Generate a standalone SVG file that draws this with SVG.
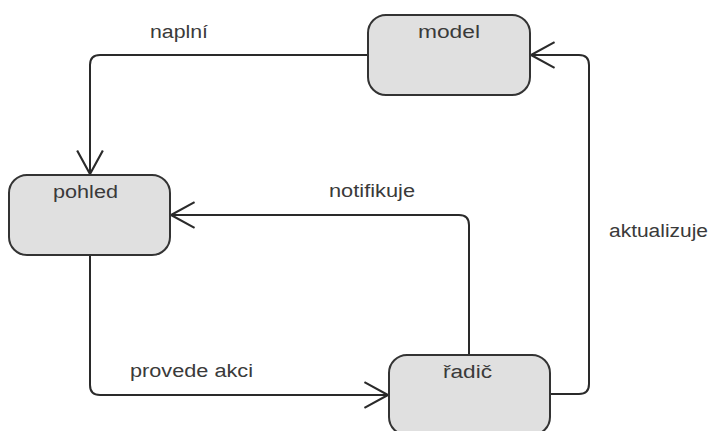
<svg xmlns="http://www.w3.org/2000/svg" width="712" height="431" viewBox="0 0 712 431">
  <style>
    .box { fill: #e0e0e0; stroke: #333; stroke-width: 2; }
    .lbl { font-family: "Liberation Sans", Arial, sans-serif; font-size: 18px; fill: #3a3a3a; }
    .edge { fill: none; stroke: #2a2a2a; stroke-width: 2; marker-end: url(#open); }
  </style>
  <defs>
    <marker id="open" markerUnits="userSpaceOnUse" markerWidth="30" markerHeight="30" viewBox="-24 -14 26 28" refX="0" refY="0" orient="auto" overflow="visible">
      <path d="M -22 -12 L 0 0 L -22 12" fill="none" stroke="#2a2a2a" stroke-width="2"/>
    </marker>
  </defs>

  <rect width="712" height="431" fill="#fff"/>

  <g id="connectors">
    <!-- model -> pohled -->
    <path class="edge" d="M 368 55 L 100 55 Q 90 55 90 65 L 90 174"/>
    <text class="lbl" x="150" y="38" textLength="58" lengthAdjust="spacingAndGlyphs">naplní</text>
    <!-- radic -> pohled -->
    <path class="edge" d="M 469 355 L 469 225 Q 469 215 459 215 L 171 215"/>
    <text class="lbl" x="329" y="197" textLength="86" lengthAdjust="spacingAndGlyphs">notifikuje</text>
    <!-- pohled -> radic -->
    <path class="edge" d="M 90 255 L 90 385 Q 90 395 100 395 L 388 395"/>
    <text class="lbl" x="130" y="377" textLength="123" lengthAdjust="spacingAndGlyphs">provede akci</text>
    <!-- radic -> model -->
    <path class="edge" d="M 550 394 L 579 394 Q 589 394 589 384 L 589 65 Q 589 55 579 55 L 531 55"/>
    <text class="lbl" x="609" y="237" textLength="99" lengthAdjust="spacingAndGlyphs">aktualizuje</text>
  </g>

  <g id="model">
    <rect class="box" x="368" y="15" width="162" height="80" rx="18"/>
    <text class="lbl" x="418" y="38" textLength="62" lengthAdjust="spacingAndGlyphs">model</text>
  </g>
  <g id="pohled">
    <rect class="box" x="9" y="175" width="161" height="80" rx="18"/>
    <text class="lbl" x="53" y="198" textLength="65" lengthAdjust="spacingAndGlyphs">pohled</text>
  </g>
  <g id="radic">
    <rect class="box" x="389" y="355" width="161" height="80" rx="18"/>
    <text class="lbl" x="443" y="378" textLength="49" lengthAdjust="spacingAndGlyphs">řadič</text>
  </g>
</svg>
